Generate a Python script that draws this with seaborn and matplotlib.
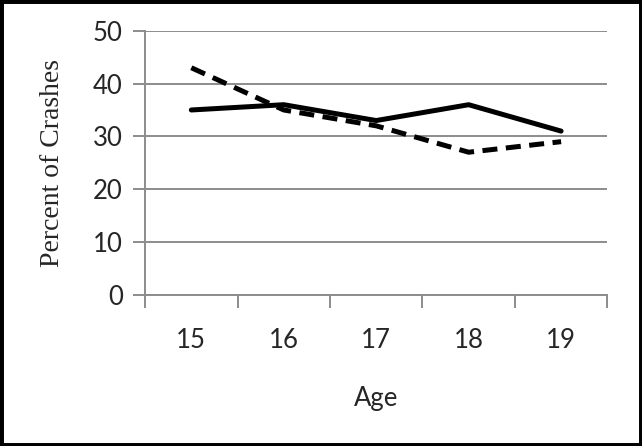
import pandas as pd
import matplotlib.pyplot as plt
import seaborn as sns
from matplotlib.patches import Rectangle
from matplotlib.ticker import FixedLocator

# Data
ages = ["15", "16", "17", "18", "19"]
series_solid = [35, 36, 33, 36, 31]
series_dashed = [43, 35, 32, 27, 29]

df = pd.DataFrame({
    "pos": list(range(len(ages))) * 2,
    "pct": series_solid + series_dashed,
    "series": ["solid"] * len(ages) + ["dashed"] * len(ages),
})

sns.set_style("white")
plt.rcParams["font.family"] = ["Lato", "DejaVu Sans"]

fig = plt.figure(figsize=(6.42, 4.46), dpi=100)
ax = fig.add_axes([0.226, 0.339, 0.72, 0.592])

sns.lineplot(data=df, x="pos", y="pct", style="series",
             dashes={"solid": "", "dashed": (3.0, 1.7)},
             color="black", linewidth=3.6, legend=False, ax=ax)

ax.set_ylim(0, 50)
ax.set_xlim(-0.5, len(ages) - 0.5)
ax.set_yticks([0, 10, 20, 30, 40, 50])
ax.yaxis.grid(True, color="#8c8c8c", linewidth=1.4)
ax.set_axisbelow(True)

# category boundaries get the tick marks, labels sit in between
ax.xaxis.set_major_locator(FixedLocator([i - 0.5 for i in range(len(ages) + 1)]))
ax.xaxis.set_minor_locator(FixedLocator(list(range(len(ages)))))
ax.set_xticklabels([])
ax.set_xticklabels(ages, minor=True)
ax.tick_params(axis="x", which="major", direction="out", length=9, width=1.4,
               color="#8c8c8c", bottom=True)
ax.tick_params(axis="x", which="minor", length=0, pad=24, labelsize=18.5)
ax.tick_params(axis="y", direction="out", length=9, width=1.4,
               color="#8c8c8c", left=True, labelsize=18.5, pad=7)

for side in ["top", "right"]:
    ax.spines[side].set_visible(False)
for side in ["left", "bottom"]:
    ax.spines[side].set_color("#8c8c8c")
    ax.spines[side].set_linewidth(1.4)

ax.set_xlabel("Age", fontsize=18.5, labelpad=24)
ax.set_ylabel("Percent of Crashes", fontsize=20, family="Liberation Serif", labelpad=20)

fig.patches.append(Rectangle((0, 0), 1, 1, transform=fig.transFigure,
                             fill=False, edgecolor="black", linewidth=5))

plt.savefig("out.png", dpi=100)
plt.close()
